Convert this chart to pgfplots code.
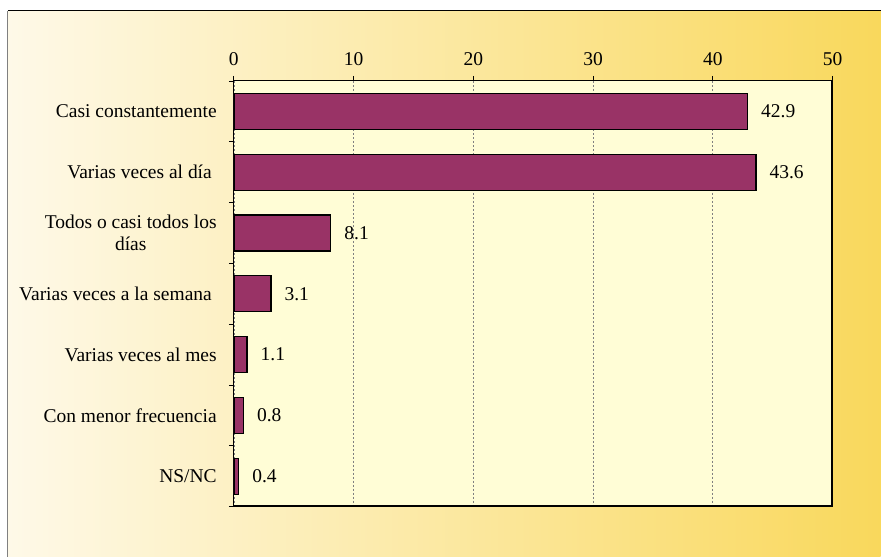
\documentclass[border=0pt]{standalone}
\usepackage{pgfplots}
\pgfplotsset{compat=1.18}
\usepackage{fontspec}
\setmainfont{Liberation Serif}
\definecolor{barc}{HTML}{993366}
\definecolor{plotbg}{HTML}{FFFDD6}
\definecolor{bgl}{HTML}{FEF9E8}
\definecolor{bgr}{HTML}{F9D85C}
\begin{document}
\fontsize{19.5}{22}\selectfont
\begin{tikzpicture}
\fill[white] (0pt,0pt) rectangle (881pt,557pt);
\shade[left color=bgl,right color=bgr] (8pt,0pt) rectangle (881pt,546pt);
\draw[gray,line width=1pt] (8pt,0pt) -- (8pt,546pt);
\draw[black,line width=1pt] (8pt,546pt) -- (881pt,546pt);
\begin{axis}[
  at={(234pt,50pt)}, anchor=south west,
  scale only axis, width=599pt, height=426pt,
  axis background/.style={fill=plotbg},
  xbar, bar width=36pt,
  xmin=0, xmax=50, ymin=-0.5, ymax=6.5,
  y dir=reverse,
  xtick={0,10,20,30,40,50},
  xtick pos=upper, xticklabel pos=upper,
  ytick pos=left,
  tick align=outside,
  major tick length=5pt,
  xmajorgrids=true,
  major grid style={gray, dash pattern=on 2pt off 2pt, line width=0.6pt},
  ytick={-0.5,0.5,1.5,2.5,3.5,4.5,5.5,6.5},
  yticklabels={},
  extra y ticks={0,1,2,3,4,5,6},
  extra y tick labels={Casi constantemente,Varias veces al día\ ,{Todos o casi todos los\\días},Varias veces a la semana\ ,Varias veces al mes,Con menor frecuencia,NS/NC},
  extra y tick style={major tick length=0pt, ymajorgrids=false, yticklabel style={align=center, inner sep=0pt, xshift=-17pt}},
  tick style={black, line width=0.8pt},
  axis line style={black, line width=1pt},
  /pgf/number format/assume math mode=true,
  xticklabel style={yshift=4pt},
  nodes near coords,
  nodes near coords style={anchor=west, inner sep=0pt, xshift=13pt, black, /pgf/number format/.cd, fixed, precision=1, fixed zerofill},
]
\addplot[fill=barc, draw=black, line width=1.3pt] coordinates {(42.9,0) (43.6,1) (8.1,2) (3.1,3) (1.1,4) (0.8,5) (0.4,6)};
\draw[black, line width=3pt] (axis description cs:1,1) -- (axis description cs:1,0) -- (axis description cs:0,0);
\end{axis}
\end{tikzpicture}
\end{document}
